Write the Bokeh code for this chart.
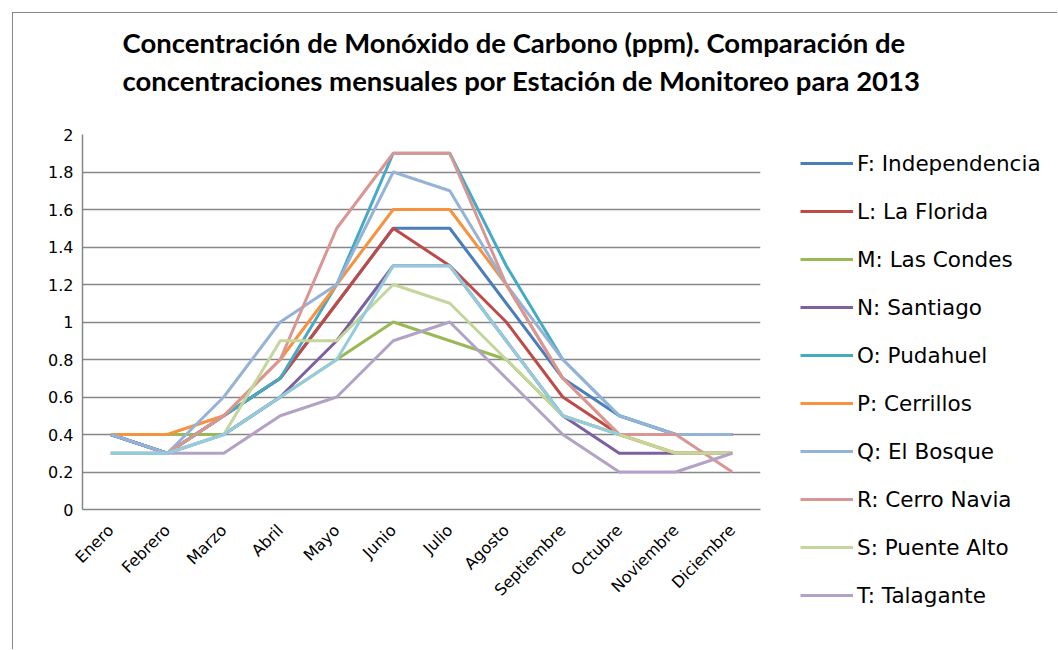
import math

from bokeh.embed import file_html
from bokeh.models import FixedTicker, Legend, LegendItem, Range1d, Title
from bokeh.plotting import figure
from bokeh.resources import INLINE

# Monthly CO concentration (ppm) per monitoring station, 2013
meses = ["Enero", "Febrero", "Marzo", "Abril", "Mayo", "Junio", "Julio",
         "Agosto", "Septiembre", "Octubre", "Noviembre", "Diciembre"]

nan = float("nan")
independencia = [0.4, 0.3, 0.5, 0.7, 1.1, 1.5, 1.5, 1.1, 0.7, 0.5, 0.4, 0.4]
la_florida = [0.4, 0.3, 0.5, 0.7, 1.1, 1.5, 1.3, 1.0, 0.6, 0.4, 0.4, 0.4]
las_condes = [0.4, 0.4, 0.4, 0.6, 0.8, 1.0, 0.9, 0.8, 0.5, 0.4, 0.3, 0.3]
santiago = [0.4, 0.3, 0.4, 0.6, 0.9, 1.3, 1.3, 0.9, 0.5, 0.3, 0.3, 0.3]
pudahuel = [0.4, 0.3, 0.5, 0.7, 1.2, 1.9, 1.9, 1.3, 0.8, 0.5, 0.4, 0.4]
cerrillos = [0.4, 0.4, 0.5, 0.8, 1.2, 1.6, 1.6, 1.2, 0.7, 0.4, 0.3, 0.3]
el_bosque = [0.4, 0.3, 0.6, 1.0, 1.2, 1.8, 1.7, 1.2, 0.8, 0.5, 0.4, 0.4]
cerro_navia = [0.3, 0.3, 0.5, 0.8, 1.5, 1.9, 1.9, 1.2, 0.7, 0.4, 0.4, 0.2]
puente_alto = [0.3, 0.3, 0.4, 0.9, 0.9, 1.2, 1.1, 0.8, 0.5, 0.4, 0.3, 0.3]
talagante = [0.3, 0.3, 0.3, 0.5, 0.6, 0.9, 1.0, 0.7, 0.4, 0.2, 0.2, 0.3]
otra_estacion = [0.3, 0.3, 0.4, 0.6, 0.8, 1.3, 1.3, 0.9, 0.5, 0.4, nan, nan]

series = [
    ("F: Independencia", independencia, "#4A7EBB"),
    ("L: La Florida", la_florida, "#BE4B48"),
    ("M: Las Condes", las_condes, "#98B954"),
    ("N: Santiago", santiago, "#7D60A0"),
    ("O: Pudahuel", pudahuel, "#46AAC5"),
    ("P: Cerrillos", cerrillos, "#F69240"),
    ("Q: El Bosque", el_bosque, "#95B3D7"),
    ("R: Cerro Navia", cerro_navia, "#D99694"),
    ("S: Puente Alto", puente_alto, "#C3D69B"),
    ("T: Talagante", talagante, "#B3A2C7"),
]
extra_color = "#93CDDD"

y_ticks = [0, 0.2, 0.4, 0.6, 0.8, 1, 1.2, 1.4, 1.6, 1.8, 2]
y_tick_labels = ["0", "0.2", "0.4", "0.6", "0.8", "1", "1.2", "1.4", "1.6", "1.8", "2"]

titulo = ("Concentración de Monóxido de Carbono (ppm). Comparación de\n"
          "concentraciones mensuales por Estación de Monitoreo para  2013")

AXIS_FONT = "DejaVu Sans"
TITLE_FONT = "Lato"
GRID = "#878787"

# The plot area is pinned to 678x375 px; the page box is limited to the window.
p = figure(x_range=meses, y_range=Range1d(0, 2),
           frame_width=678, frame_height=375,
           output_backend="svg", toolbar_location=None,
           min_border_left=69, min_border_right=0,
           min_border_top=121, min_border_bottom=141,
           styles={"margin-left": "12px", "margin-top": "12px",
                   "border-left": f"1px solid {GRID}",
                   "border-top": f"1px solid {GRID}",
                   "max-width": "1045px", "max-height": "637px",
                   "overflow": "hidden"})
p.outline_line_color = None
p.background_fill_color = "white"
p.border_fill_color = "white"

renderers = []
for name, vals, color in series:
    r = p.line(meses, vals, line_color=color, line_width=3)
    renderers.append((name, r))
p.line(meses, otra_estacion, line_color=extra_color, line_width=3)

# Axes
p.yaxis.ticker = FixedTicker(ticks=y_ticks)
p.yaxis.major_label_overrides = {t: lab for t, lab in zip(y_ticks, y_tick_labels)}
p.yaxis.major_tick_line_color = None
p.yaxis.minor_tick_line_color = None
p.yaxis.major_label_standoff = 3
p.yaxis.axis_line_color = GRID
p.yaxis.axis_line_width = 1.5
p.yaxis.major_label_text_font = AXIS_FONT
p.yaxis.major_label_text_font_size = "16px"
p.yaxis.major_label_text_color = "black"

p.xaxis.major_label_orientation = math.pi / 4
p.xaxis.major_tick_line_color = None
p.xaxis.minor_tick_line_color = None
p.xaxis.axis_line_color = GRID
p.xaxis.axis_line_width = 1.5
p.xaxis.major_label_standoff = 12
p.xaxis.major_label_text_font = AXIS_FONT
p.xaxis.major_label_text_font_size = "16px"
p.xaxis.major_label_text_color = "black"

p.xgrid.grid_line_color = None
p.ygrid.grid_line_color = GRID
p.ygrid.grid_line_width = 1.5

# Legend in the right-hand panel; a blank side title keeps a gap from the plot area
legend = Legend(
    items=[LegendItem(label=n, renderers=[r]) for n, r in renderers],
    location="top_left",
    title=" ", title_location="left", title_text_font_size="1px", title_standoff=23,
    glyph_width=53, glyph_height=26, label_height=26, spacing=22,
    label_standoff=4, padding=0, margin=16,
    border_line_color=None, background_fill_alpha=0,
    label_text_font=AXIS_FONT, label_text_font_size="21.5px", label_text_color="black",
)
p.add_layout(legend, "right")

# Blank strip between the plot area and the title, then the two-line title
p.add_layout(Title(text=" ", text_font_size="1px", standoff=34), "above")
p.add_layout(Title(text=titulo, align="left", offset=40, standoff=0,
                   text_font=TITLE_FONT, text_font_style="bold",
                   text_line_height=1.16,
                   text_font_size="27.5px", text_color="black"), "above")

open("out.html", "w").write(file_html(p, INLINE))
